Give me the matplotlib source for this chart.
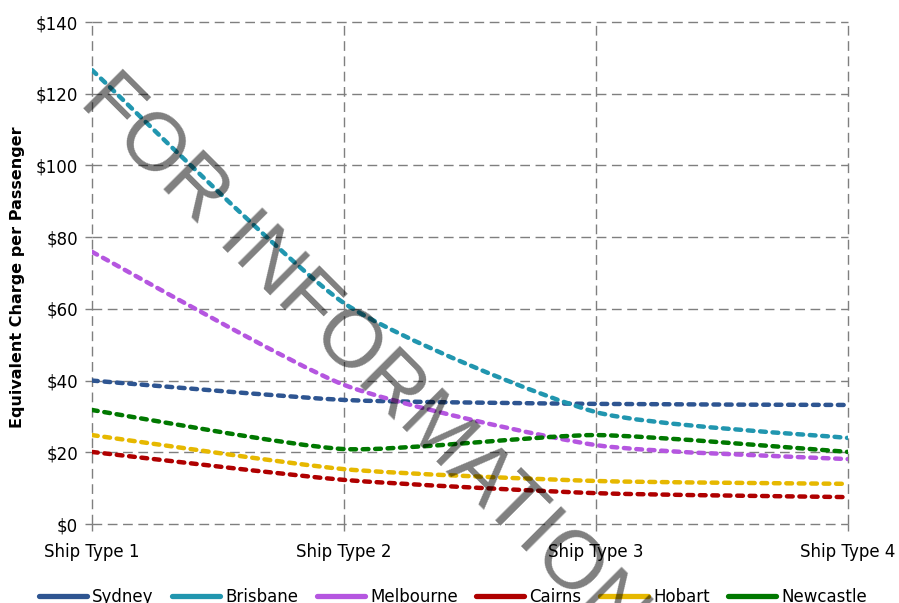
import matplotlib
matplotlib.use("Agg")
import matplotlib.pyplot as plt
from matplotlib.path import Path
from matplotlib.patches import PathPatch
from matplotlib.lines import Line2D
import numpy as np

categories = ["Ship Type 1", "Ship Type 2", "Ship Type 3", "Ship Type 4"]
sydney = [40.0, 34.6, 33.5, 33.2]
brisbane = [126.6, 61.6, 31.2, 24.0]
melbourne = [75.9, 38.8, 22.0, 18.1]
cairns = [20.1, 12.3, 8.6, 7.5]
hobart = [24.8, 15.3, 12.0, 11.2]
newcastle = [31.8, 20.9, 24.8, 20.1]

series = [
    ("Sydney", sydney, "#2E5591"),
    ("Brisbane", brisbane, "#2196AF"),
    ("Melbourne", melbourne, "#B556E0"),
    ("Cairns", cairns, "#AF0000"),
    ("Hobart", hobart, "#E6B800"),
    ("Newcastle", newcastle, "#007800"),
]
y_ticks = [0, 20, 40, 60, 80, 100, 120, 140]


def smooth_path(xs, ys, k=0.1):
    """Cubic Bezier path through the points with gently rounded joints."""
    pts = np.column_stack([xs, ys]).astype(float)
    n = len(pts)
    verts = [pts[0]]
    codes = [Path.MOVETO]
    for i in range(n - 1):
        p0 = pts[i - 1] if i > 0 else pts[i]
        p1 = pts[i]
        p2 = pts[i + 1]
        p3 = pts[i + 2] if i + 2 < n else pts[i + 1]
        c1 = p1 + (p2 - p0) * k
        c2 = p2 - (p3 - p1) * k
        verts += [c1, c2, p2]
        codes += [Path.CURVE4] * 3
    return Path(verts, codes)


fig = plt.figure(figsize=(8.99, 6.03), dpi=100)
ax = fig.add_axes([92 / 899, 1 - 524 / 603, (848 - 92) / 899, (524 - 22) / 603])

x = np.arange(len(categories))
handles = []
for name, vals, color in series:
    patch = PathPatch(smooth_path(x, vals), fill=False, edgecolor=color,
                      linewidth=3.2, linestyle=(0, (1.3, 1.5)), zorder=3)
    patch.set_capstyle("round")
    ax.add_patch(patch)
    handles.append(Line2D([], [], color=color, linewidth=3.8,
                          solid_capstyle="round", label=name))

ax.set_xlim(0, len(categories) - 1)
ax.set_ylim(0, 140)
ax.set_xticks(x)
ax.set_xticklabels(categories)
ax.set_yticks(y_ticks)
ax.set_yticklabels([f"${v}" for v in y_ticks])

for s in ax.spines.values():
    s.set_visible(False)
ax.grid(True, color="#7F7F7F", linestyle=(0, (7, 4)), linewidth=1.0)
ax.set_axisbelow(True)
for gl in ax.get_xgridlines() + ax.get_ygridlines():
    gl.set_clip_on(False)
ax.tick_params(axis="both", colors="#7F7F7F", length=5, width=1.0,
               labelcolor="black", labelsize=12)
ax.tick_params(axis="x", pad=9)
ax.tick_params(axis="y", pad=5)

fig.text(18 / 899, 1 - 277 / 603, "Equivalent Charge per Passenger", rotation=90,
         ha="center", va="center", fontsize=11.5, fontweight="bold")

fig.legend(handles=handles, loc="center", bbox_to_anchor=(453 / 899, 1 - 597 / 603),
           ncol=6, frameon=False, fontsize=12, handlelength=2.9,
           columnspacing=1.1, handletextpad=0.3)

fig.text(78 / 899, 1 - 103 / 603, "FOR INFORMATION", rotation=-45,
         rotation_mode="anchor", ha="left", va="baseline",
         fontsize=59, family="Liberation Sans", color="black", alpha=0.5, zorder=10)

fig.savefig("out.png", dpi=100)
